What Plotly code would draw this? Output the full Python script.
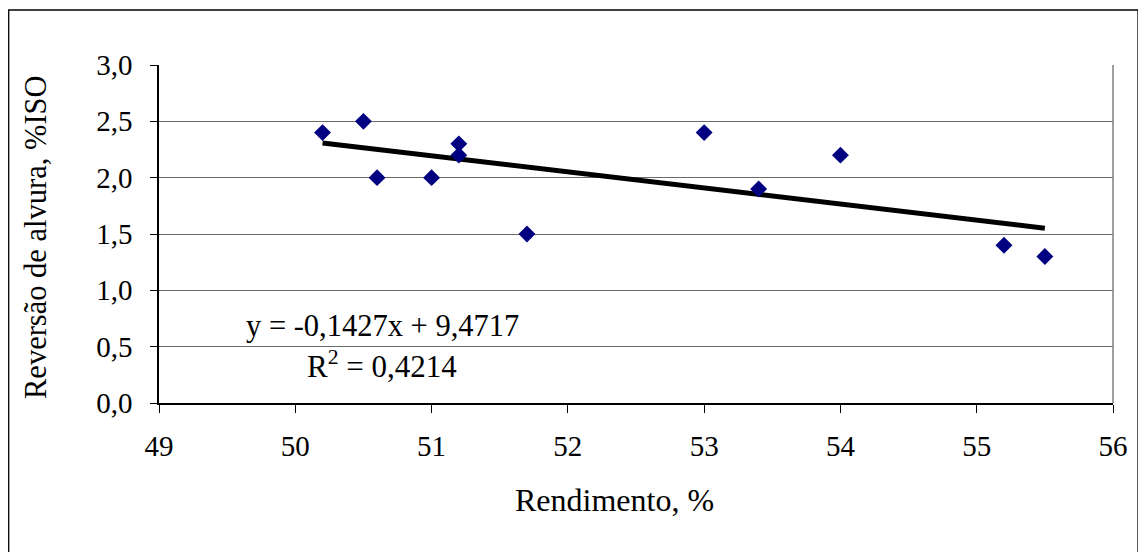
import plotly.graph_objects as go

# Data
rendimento = [50.2, 50.5, 50.6, 51.0, 51.2, 51.2, 51.7, 53.0, 53.4, 54.0, 55.2, 55.5]
reversao = [2.4, 2.5, 2.0, 2.0, 2.3, 2.2, 1.5, 2.4, 1.9, 2.2, 1.4, 1.3]

# Linear trendline coefficients (shown on chart)
slope = -0.1427
intercept = 9.4717
r2 = 0.4214

x_ticks = [49, 50, 51, 52, 53, 54, 55, 56]
y_ticks = [0.0, 0.5, 1.0, 1.5, 2.0, 2.5, 3.0]

FONT = "Liberation Serif"
TICK_SIZE = 29

tx = [min(rendimento), max(rendimento)]
ty = [slope * v + intercept for v in tx]

fig = go.Figure()
fig.add_trace(go.Scatter(
    x=tx, y=ty, mode="lines",
    line=dict(color="black", width=5),
    showlegend=False, hoverinfo="skip"))
fig.add_trace(go.Scatter(
    x=rendimento, y=reversao, mode="markers",
    marker=dict(symbol="diamond", size=13, color="#000080"),
    showlegend=False))

# page body has an 8px margin
OFF = 8
W, H = 1146 - OFF, 552 - OFF
ml, mt = 159 - OFF, 65 - OFF
pw, ph = 954, 338
mr = W - ml - pw
mb = H - mt - ph

def sx(px):  # screenshot x -> paper
    return (px - OFF - ml) / pw

def sy(py):  # screenshot y -> paper
    return (mt + ph - (py - OFF)) / ph

fig.update_layout(
    width=W, height=H,
    margin=dict(l=ml, r=mr, t=mt, b=mb),
    paper_bgcolor="white", plot_bgcolor="white",
    separators=",.",
    font=dict(family=FONT, size=TICK_SIZE, color="black"),
    xaxis=dict(
        range=[49, 56], tickvals=x_ticks, ticks="outside", ticklen=8,
        tickcolor="black", tickwidth=1,
        showgrid=False, zeroline=False,
        showline=True, linecolor="black", linewidth=1.5,
        tickfont=dict(family=FONT, size=TICK_SIZE, color="black"),
        ticklabelstandoff=8,
    ),
    yaxis=dict(
        range=[0, 3], tickvals=y_ticks, tickformat=".1f", ticks="outside", ticklen=7,
        tickcolor="black", tickwidth=1,
        showgrid=True, gridcolor="#6a6a6a", gridwidth=1.3, zeroline=False,
        showline=True, linecolor="black", linewidth=1.5,
        tickfont=dict(family=FONT, size=TICK_SIZE, color="black"),
        ticklabelstandoff=12,
    ),
)

# plot area right border (gray)
fig.add_shape(type="line", xref="paper", yref="paper", x0=1, x1=1, y0=0, y1=1,
              line=dict(color="#808080", width=1.5))

# outer chart border
fig.add_shape(type="rect", xref="paper", yref="paper",
              x0=sx(8.7), x1=sx(1138), y0=sy(600), y1=sy(10),
              line=dict(color="black", width=1.3), fillcolor="rgba(0,0,0,0)", layer="below")

# axis titles
fig.add_annotation(xref="paper", yref="paper", x=sx(614), y=sy(500),
                   text="Rendimento, %", showarrow=False,
                   font=dict(family=FONT, size=32, color="black"),
                   xanchor="center", yanchor="middle")
fig.add_annotation(xref="paper", yref="paper", x=sx(36), y=sy(237),
                   text="Reversão de alvura, %ISO", showarrow=False, textangle=-90,
                   font=dict(family=FONT, size=30.5, color="black"),
                   xanchor="center", yanchor="middle")

eq_text = f"y = {slope:.4f}".replace(".", ",") + "x + " + f"{intercept:.4f}".replace(".", ",")
r2_text = "R<sup>2</sup> = " + f"{r2:.4f}".replace(".", ",")

fig.add_annotation(xref="paper", yref="paper", x=sx(382), y=sy(326),
                   text=eq_text, showarrow=False,
                   font=dict(family=FONT, size=30.5, color="black"),
                   xanchor="center", yanchor="middle")
fig.add_annotation(xref="paper", yref="paper", x=sx(382), y=sy(364),
                   text=r2_text, showarrow=False,
                   font=dict(family=FONT, size=31, color="black"),
                   xanchor="center", yanchor="middle")

fig.write_html("out.html")
